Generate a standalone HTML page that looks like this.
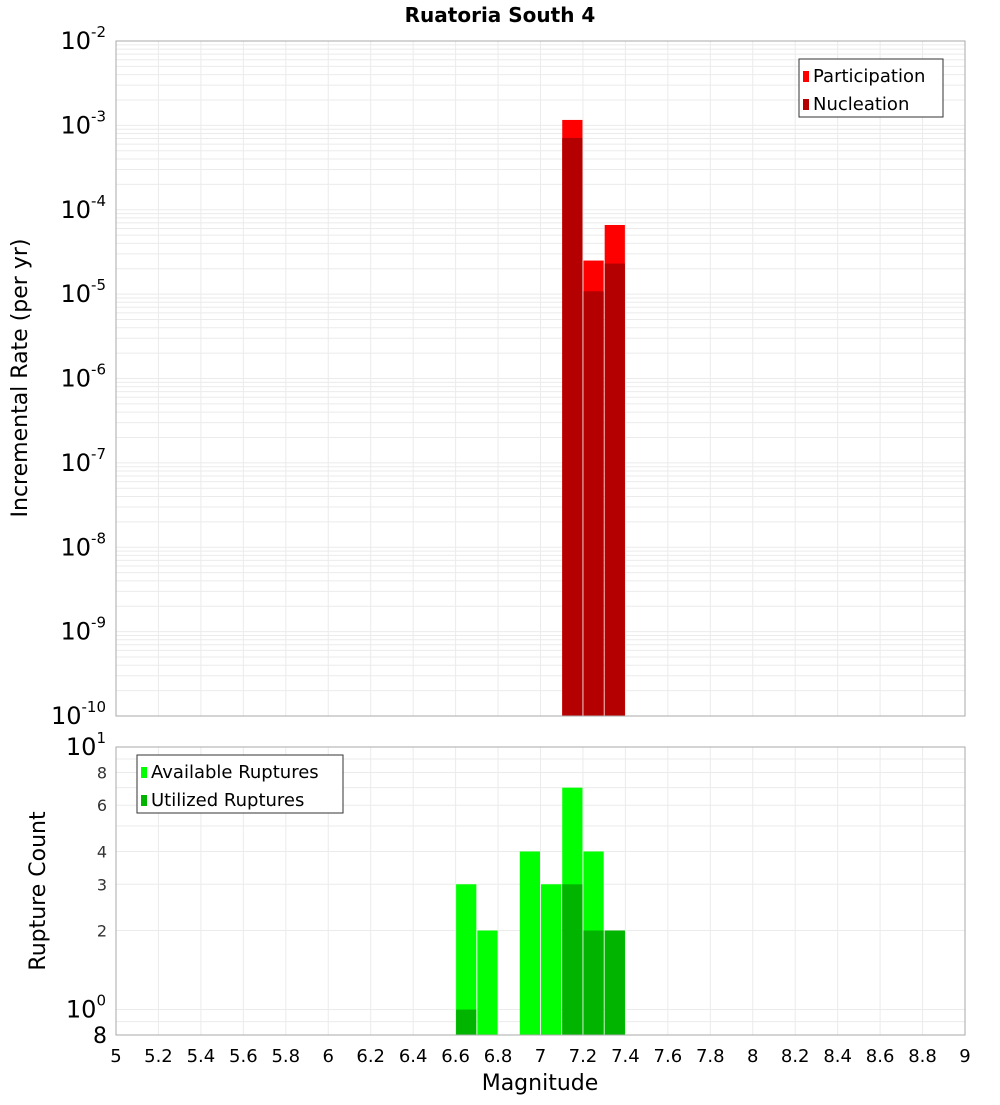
<!DOCTYPE html>
<html><head><meta charset="utf-8"><style>
body{margin:0;background:#fff;font-family:"Liberation Sans","DejaVu Sans",sans-serif}
svg text{font-family:"DejaVu Sans","Liberation Sans",sans-serif}
</style></head><body>
<svg id="c" width="1000" height="1100" xmlns="http://www.w3.org/2000/svg">
<text x="500" y="22" text-anchor="middle" font-size="20" font-weight="bold">Ruatoria South 4</text>
<g id="topPanel"></g>
<g id="botPanel"></g>
<text transform="translate(27,378) rotate(-90)" text-anchor="middle" font-size="22">Incremental Rate (per yr)</text>
<text transform="translate(45,891) rotate(-90)" text-anchor="middle" font-size="22">Rupture Count</text>
<text x="540" y="1090" text-anchor="middle" font-size="22">Magnitude</text>
</svg>
<script>
const mags=[7.15,7.25,7.35];
const participation=[1.16e-3,2.5e-5,6.6e-5];
const nucleation=[7.1e-4,1.08e-5,2.3e-5];
const countMags=[6.65,6.75,6.95,7.05,7.15,7.25,7.35];
const available=[3,2,4,3,7,4,2];
const utilized=[1,0,0,0,3,2,2];
const xTicks=[5,5.2,5.4,5.6,5.8,6,6.2,6.4,6.6,6.8,7,7.2,7.4,7.6,7.8,8,8.2,8.4,8.6,8.8,9];
const yExps=[-10,-9,-8,-7,-6,-5,-4,-3,-2];
const countTicks=[2,3,4,6,8];
const NS="http://www.w3.org/2000/svg";
const X0=116,X1=965;
const x=m=>X0+(m-5)/4*(X1-X0);
const T0=41,T1=716;
const yT=v=>T1-(Math.log10(v)+10)/8*(T1-T0);
const B0=747,B1=1035;
const yB=v=>B1-(Math.log10(v)-Math.log10(0.8))/(1-Math.log10(0.8))*(B1-B0);
function mk(p,t,a){const e=document.createElementNS(NS,t);for(const k in a)e.setAttribute(k,a[k]);p.appendChild(e);return e;}
const topG=document.getElementById('topPanel'),botG=document.getElementById('botPanel');
for(let e=-10;e<-2;e++)for(let k=1;k<10;k++){const y=yT(k*Math.pow(10,e));const l=mk(topG,'line',{x1:X0,x2:X1,y1:y,y2:y,stroke:'#ebebeb','stroke-width':1});

}
xTicks.forEach(m=>{const l=mk(topG,'line',{x1:x(m),x2:x(m),y1:T0,y2:T1,stroke:'#ebebeb'});


const l2=mk(botG,'line',{x1:x(m),x2:x(m),y1:B0,y2:B1,stroke:'#ebebeb'});

});
[0.8,0.9,1,2,3,4,5,6,7,8,9,10].forEach(v=>{const l=mk(botG,'line',{x1:X0,x2:X1,y1:yB(v),y2:yB(v),stroke:'#ebebeb'});

});
const w=(X1-X0)/40;
mags.forEach((m,i)=>{
const r=mk(topG,'rect',{x:x(m)-w/2+0.5,y:yT(participation[i]),width:w-1,height:T1-yT(participation[i]),fill:'#ff0000'});


const n=mk(topG,'rect',{x:x(m)-w/2+0.5,y:yT(nucleation[i]),width:w-1,height:T1-yT(nucleation[i]),fill:'#b40000'});

});
countMags.forEach((m,i)=>{
const a=mk(botG,'rect',{x:x(m)-w/2+0.5,y:yB(available[i]),width:w-1,height:B1-yB(available[i]),fill:'#00ff00'});


if(utilized[i]>0){const u=mk(botG,'rect',{x:x(m)-w/2+0.5,y:yB(utilized[i]),width:w-1,height:B1-yB(utilized[i]),fill:'#00b400'});

}});
mk(topG,'rect',{x:X0,y:T0,width:X1-X0,height:T1-T0,fill:'none',stroke:'#aaa'});
mk(botG,'rect',{x:X0,y:B0,width:X1-X0,height:B1-B0,fill:'none',stroke:'#aaa'});
function pow10Label(p,yy,e){const t=mk(p,'text',{x:106,y:yy+8,'text-anchor':'end','font-size':24});


t.appendChild(document.createTextNode('10'));
const s=mk(t,'tspan',{dy:-12,'font-size':15});s.textContent=String(e);}
yExps.forEach(e=>pow10Label(topG,yT(Math.pow(10,e)),e));
pow10Label(botG,yB(10),1);
pow10Label(botG,yB(1),0);
countTicks.forEach(v=>{const t=mk(botG,'text',{x:107,y:yB(v)+6,'text-anchor':'end','font-size':16,fill:'#333'});


t.textContent=v;});
{const t=mk(botG,'text',{x:107,y:1043,'text-anchor':'end','font-size':22});


t.textContent='8';}
xTicks.forEach(m=>{const t=mk(botG,'text',{x:x(m),y:1062,'text-anchor':'middle','font-size':18});


t.textContent=String(m);});
function legend(p,lx,ly,wd,items){const g=mk(p,'g',{});


mk(g,'rect',{x:lx,y:ly,width:wd,height:58,fill:'#fff',stroke:'#333'});
items.forEach(([c,s],i)=>{mk(g,'rect',{x:lx+4,y:ly+12+i*28,width:6,height:11,fill:c});
const t=mk(g,'text',{x:lx+14,y:ly+23+i*28,'font-size':18});


t.textContent=s;});}
legend(topG,799,59,144,[['#ff0000','Participation'],['#b40000','Nucleation']]);
legend(botG,137,755,206,[['#00ff00','Available Ruptures'],['#00b400','Utilized Ruptures']]);
</script>
</body></html>
